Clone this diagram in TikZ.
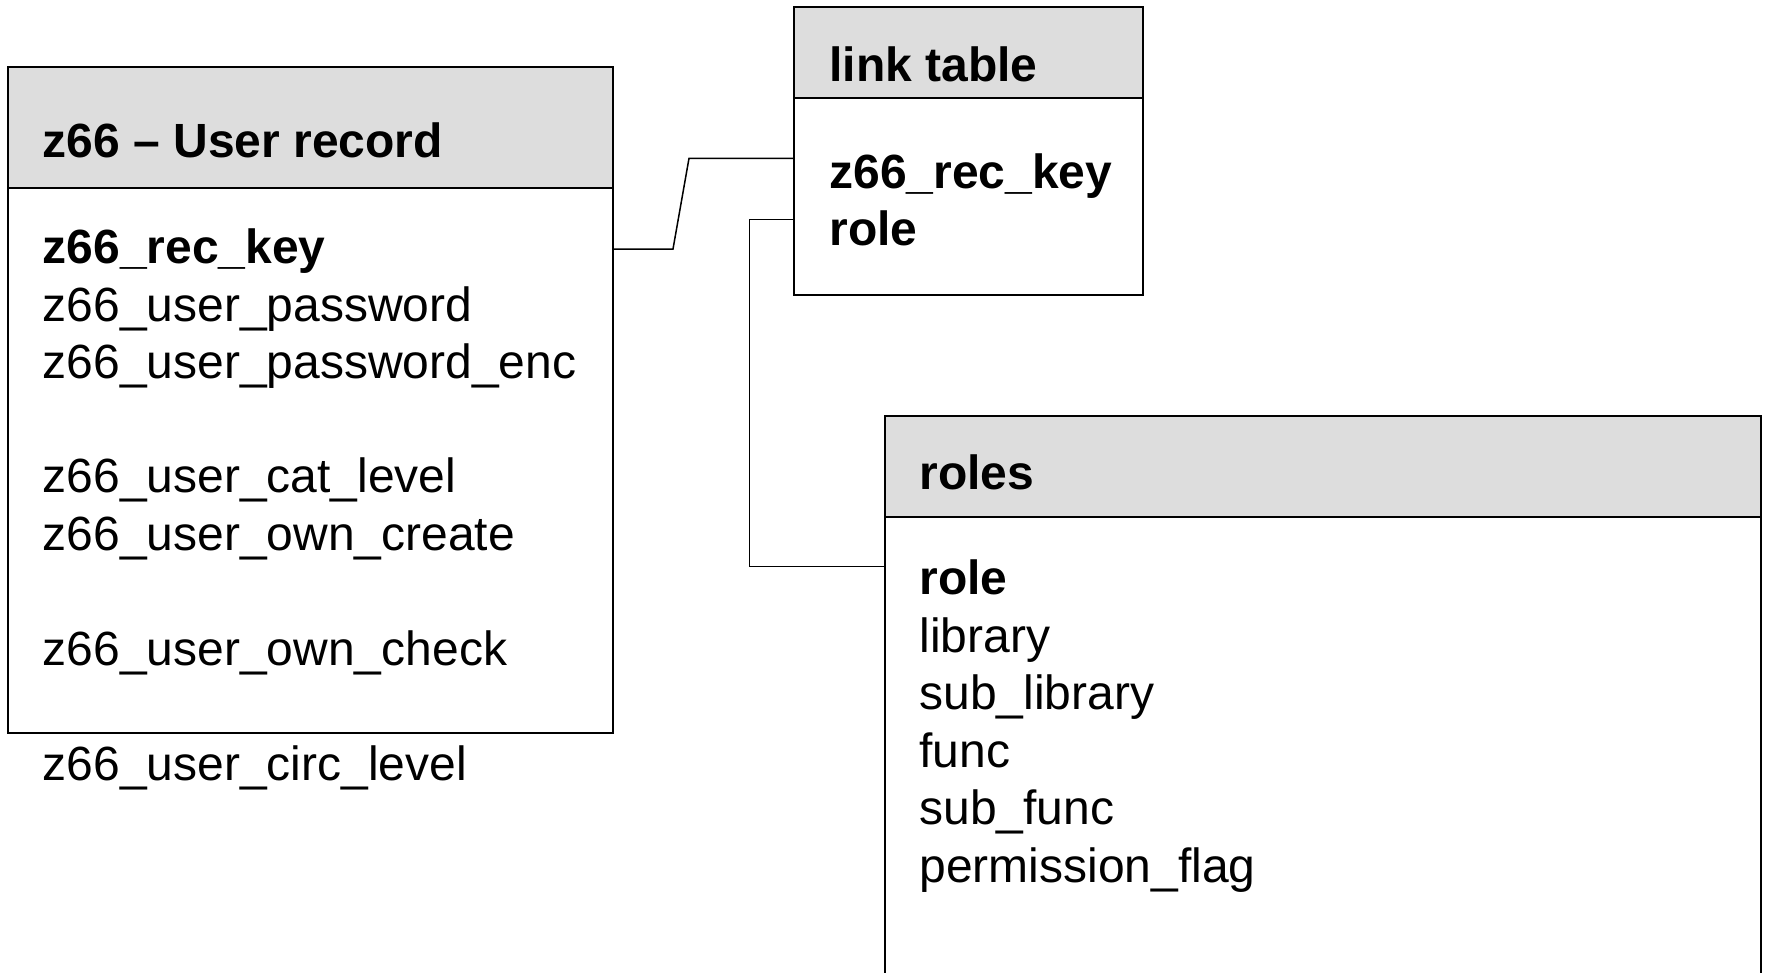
\documentclass[tikz,border=0pt]{standalone}
\usepackage{fontspec}
\setmainfont{Liberation Sans}
\definecolor{hdrgray}{RGB}{221,221,221}
\begin{document}
\begin{tikzpicture}[x=1pt,y=-1pt,
  tbl/.style={draw=black, line width=2pt, fill=white, rectangle, anchor=north west, inner sep=0pt, outer sep=0pt},
  hdr/.style={tbl, fill=hdrgray},
  txt/.style={anchor=base west, inner sep=0pt, outer sep=0pt, font=\fontsize{48}{57.5}\selectfont},
  btxt/.style={txt, font=\fontsize{48}{57.5}\selectfont\bfseries},
  conn/.style={draw=black, line width=1.5pt}]
\path[use as bounding box] (0,0) rectangle (1767,972);
\clip (0,0) rectangle (1767,972);

% user record table
\node[tbl, minimum width=605pt, minimum height=666pt] (user) at (8,67.3) {};
\node[hdr, minimum width=605pt, minimum height=121pt] (userh) at (8,67.3) {};
\node[btxt] (uh) at (42.8,157.5) {z66 – User record};
\node[btxt] (u0) at (42.8,263.5) {z66\_rec\_key};
\node[txt] (u1) at (42.8,321) {z66\_user\_password};
\node[txt] (u2) at (42.8,378.5) {z66\_user\_password\_enc};
\node[txt] (u4) at (42.8,492.5) {z66\_user\_cat\_level};
\node[txt] (u5) at (42.8,550) {z66\_user\_own\_create};
\node[txt] (u7) at (42.8,665) {z66\_user\_own\_check};
\node[txt] (u9) at (42.8,780.5) {z66\_user\_circ\_level};

% link table
\node[tbl, minimum width=348.3pt, minimum height=287.8pt] (link) at (794.4,6.9) {};
\node[hdr, minimum width=348.3pt, minimum height=91.5pt] (linkh) at (794.4,6.9) {};
\node[btxt] (lh) at (829.5,81.5) {link table};
\node[btxt] (l0) at (829.5,188) {z66\_rec\_key};
\node[btxt] (l1) at (829.5,245) {role};

% roles table
\node[tbl, minimum width=876.4pt, minimum height=600pt] (roles) at (885,415.5) {};
\node[hdr, minimum width=876.4pt, minimum height=101.7pt] (rolesh) at (885,415.5) {};
\node[btxt] (rh) at (919.5,489) {roles};
\node[btxt] (r0) at (919.5,594.5) {role};
\node[txt] (r1) at (919.5,652) {library};
\node[txt] (r2) at (919.5,709.5) {sub\_library};
\node[txt] (r3) at (919.5,767) {func};
\node[txt] (r4) at (919.5,824.5) {sub\_func};
\node[txt] (r5) at (919.5,882) {permission\_flag};

% connectors
\coordinate (k1a) at (673,249);
\coordinate (k1b) at (689,158.3);
\draw[conn] (user.east |- k1a) -- (k1a) -- (k1b) -- (link.west |- k1b);
\coordinate (k2a) at (749.3,219.3);
\coordinate (k2b) at (749.3,566.4);
\draw[conn] (link.west |- k2a) -- (k2a) -- (k2b) -- (roles.west |- k2b);
\end{tikzpicture}
\end{document}
